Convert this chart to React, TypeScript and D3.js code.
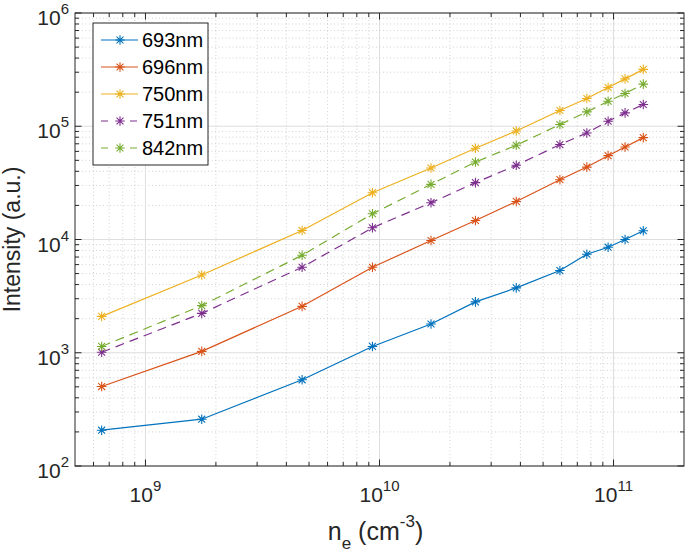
import React, { useEffect, useRef } from 'react';
import * as d3 from 'd3';

// electron density (cm^-3), shared by all lines
const density = [6.5e8, 1.74e9, 4.67e9, 9.33e9, 1.66e10, 2.57e10, 3.84e10, 5.9e10, 7.69e10, 9.48e10, 1.12e11, 1.34e11];

// line intensities (a.u.)
const i693 = [207, 259, 577, 1137, 1795, 2811, 3741, 5317, 7413, 8550, 10000, 11940];
const i696 = [503, 1028, 2570, 5690, 9800, 14720, 21680, 33740, 43600, 55000, 65600, 79400];
const i750 = [2094, 4865, 12020, 25900, 42800, 63900, 90900, 137700, 175800, 220000, 262000, 318000];
const i751 = [1010, 2228, 5690, 12680, 21130, 31770, 45200, 68900, 87300, 110700, 131200, 155600];
const i842 = [1137, 2606, 7260, 16870, 30700, 48300, 67900, 103500, 133900, 166400, 194700, 235400];

const seriesNames = ['693nm', '696nm', '750nm', '751nm', '842nm'];
const seriesValues = [i693, i696, i750, i751, i842];
const seriesColors = ['#0072BD', '#D95319', '#EDB120', '#7E2F8E', '#77AC30'];
const seriesDashed = [false, false, false, true, true];

const xDomain = [5e8, 2e11];
const yDomain = [1e2, 1e6];
const xTickExps = [9, 10, 11];
const yTickExps = [2, 3, 4, 5, 6];

const W = 685;
const H = 553;
const FONT = '"Liberation Sans", Arial, Helvetica, sans-serif';
const AXIS = '#262626';

export default function App() {
  const node = useRef<SVGSVGElement>(null);

  useEffect(() => {
    const svg = d3.select(node.current);
    svg.selectAll('*').remove();

    const m = { left: 75, right: 684, top: 13, bottom: 466 };
    const x = d3.scaleLog().domain(xDomain).range([m.left, m.right]);
    const y = d3.scaleLog().domain(yDomain).range([m.bottom, m.top]);

    const isDecade = (v: number) => Math.abs(Math.log10(v) - Math.round(Math.log10(v))) < 1e-9;
    const xMinor = x.ticks().filter(v => !isDecade(v) && v > xDomain[0] && v < xDomain[1]);
    const yMinor = y.ticks().filter(v => !isDecade(v) && v > yDomain[0] && v < yDomain[1]);
    const xMajor = xTickExps.map(e => Math.pow(10, e));
    const yMajor = yTickExps.map(e => Math.pow(10, e));

    svg.append('rect').attr('width', W).attr('height', H).attr('fill', '#fff');

    // grid
    const grid = svg.append('g');
    grid.selectAll('.xminor').data(xMinor).enter().append('line')
      .attr('x1', d => x(d)).attr('x2', d => x(d)).attr('y1', m.top).attr('y2', m.bottom)
      .attr('stroke', '#c6c6c6').attr('stroke-width', 0.8).attr('stroke-dasharray', '1,2.5');
    grid.selectAll('.yminor').data(yMinor).enter().append('line')
      .attr('y1', d => y(d)).attr('y2', d => y(d)).attr('x1', m.left).attr('x2', m.right)
      .attr('stroke', '#c6c6c6').attr('stroke-width', 0.8).attr('stroke-dasharray', '1,2.5');
    grid.selectAll('.xmajor').data(xMajor).enter().append('line')
      .attr('x1', d => x(d)).attr('x2', d => x(d)).attr('y1', m.top).attr('y2', m.bottom)
      .attr('stroke', '#dedede').attr('stroke-width', 1);
    grid.selectAll('.ymajor').data(yMajor).enter().append('line')
      .attr('y1', d => y(d)).attr('y2', d => y(d)).attr('x1', m.left).attr('x2', m.right)
      .attr('stroke', '#dedede').attr('stroke-width', 1);

    // series
    const line = d3.line<number>()
      .x((_, i) => x(density[i]))
      .y(d => y(d));

    const star = (g: any, cx: number, cy: number, color: string, r: number) => {
      const d = r * 0.72;
      g.append('path')
        .attr('d', `M${cx - r},${cy}L${cx + r},${cy}M${cx},${cy - r}L${cx},${cy + r}` +
          `M${cx - d},${cy - d}L${cx + d},${cy + d}M${cx - d},${cy + d}L${cx + d},${cy - d}`)
        .attr('stroke', color).attr('stroke-width', 1.1).attr('fill', 'none');
    };

    seriesValues.forEach((vals, s) => {
      const g = svg.append('g');
      g.append('path')
        .attr('d', line(vals))
        .attr('fill', 'none')
        .attr('stroke', seriesColors[s])
        .attr('stroke-width', 1.2)
        .attr('stroke-dasharray', seriesDashed[s] ? '9,6' : null);
      vals.forEach((v, i) => star(g, x(density[i]), y(v), seriesColors[s], 4.8));
    });

    // axes box and ticks
    const ax = svg.append('g').attr('stroke', AXIS).attr('stroke-width', 1).attr('fill', 'none');
    ax.append('rect').attr('x', m.left).attr('y', m.top)
      .attr('width', m.right - m.left).attr('height', m.bottom - m.top);
    const tick = (xs: number[], len: number) => {
      xs.forEach(v => {
        const px = x(v);
        ax.append('line').attr('x1', px).attr('x2', px).attr('y1', m.bottom).attr('y2', m.bottom - len);
        ax.append('line').attr('x1', px).attr('x2', px).attr('y1', m.top).attr('y2', m.top + len);
      });
    };
    const ytick = (ys: number[], len: number) => {
      ys.forEach(v => {
        const py = y(v);
        ax.append('line').attr('y1', py).attr('y2', py).attr('x1', m.left).attr('x2', m.left + len);
        ax.append('line').attr('y1', py).attr('y2', py).attr('x1', m.right).attr('x2', m.right - len);
      });
    };
    tick(xMajor, 6.5);
    tick(xMinor, 4);
    ytick(yMajor, 6.5);
    ytick(yMinor, 4);

    // tick labels
    const label = (tx: number, ty: number, exp: number, anchor: string) => {
      const t = svg.append('text')
        .attr('x', tx).attr('y', ty)
        .attr('text-anchor', anchor)
        .attr('font-family', FONT).attr('font-size', 21).attr('fill', AXIS);
      t.append('tspan').text('10');
      t.append('tspan').attr('font-size', 15).attr('dy', -11).text(String(exp));
    };
    xTickExps.forEach(e => label(x(Math.pow(10, e)), m.bottom + 36, e, 'middle'));
    yTickExps.forEach(e => label(69, y(Math.pow(10, e)) + 12, e, 'end'));

    // axis titles
    const xl = svg.append('text')
      .attr('x', (m.left + m.right) / 2 - 4).attr('y', 540)
      .attr('text-anchor', 'middle')
      .attr('font-family', FONT).attr('font-size', 25).attr('fill', AXIS);
    xl.append('tspan').text('n');
    xl.append('tspan').attr('font-size', 17).attr('dy', 9).text('e');
    xl.append('tspan').attr('dy', -9).text(' (cm');
    xl.append('tspan').attr('font-size', 17).attr('dy', -13).text('-3');
    xl.append('tspan').attr('dy', 13).text(')');

    svg.append('text')
      .attr('transform', `translate(20,${(m.top + m.bottom) / 2}) rotate(-90)`)
      .attr('text-anchor', 'middle')
      .attr('font-family', FONT).attr('font-size', 23).attr('fill', AXIS)
      .text('Intensity (a.u.)');

    // legend
    const lg = svg.append('g');
    lg.append('rect').attr('x', 93).attr('y', 23).attr('width', 115).attr('height', 142)
      .attr('fill', '#fff').attr('stroke', AXIS).attr('stroke-width', 1);
    seriesNames.forEach((name, s) => {
      const ry = 40 + s * 27;
      lg.append('line').attr('x1', 101).attr('x2', 138).attr('y1', ry).attr('y2', ry)
        .attr('stroke', seriesColors[s]).attr('stroke-width', 1.2)
        .attr('stroke-dasharray', seriesDashed[s] ? '7,22' : null);
      star(lg, 120, ry, seriesColors[s], 4.8);
      lg.append('text').attr('x', 142).attr('y', ry + 7)
        .attr('font-family', FONT).attr('font-size', 20).attr('fill', '#000')
        .text(name);
    });
  }, []);

  return (
    <div style={{ position: 'absolute', left: 0, top: 0 }}>
      <svg ref={node} width={W} height={H} style={{ display: 'block' }}></svg>
    </div>
  );
}
